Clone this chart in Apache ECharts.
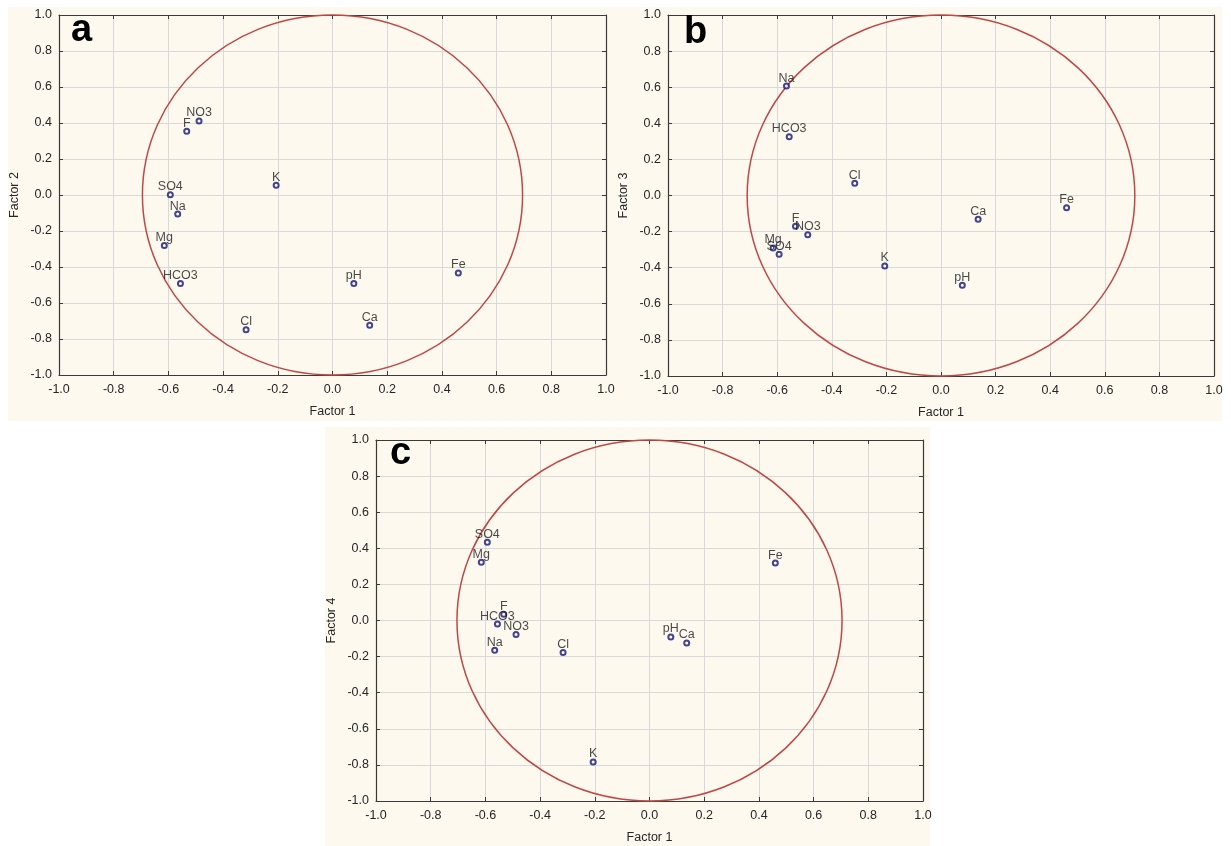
<!DOCTYPE html>
<html>
<head>
<meta charset="utf-8">
<title>Factor loadings</title>
<script src="https://cdn.jsdelivr.net/npm/echarts@6/dist/echarts.min.js"></script>
<style>
  body { margin: 0; background: #fff; }
  .bg { position: absolute; background: #fdf9ee; }
  #main { position: absolute; left: 0; top: 0; width: 1231px; height: 846px; }
</style>
</head>
<body>
<div class="bg" style="left:8px;top:7px;width:610px;height:414px"></div>
<div class="bg" style="left:618px;top:7px;width:604px;height:414px"></div>
<div class="bg" style="left:325px;top:427px;width:605px;height:419px"></div>
<div id="main"></div>
<script>
// variables and their loadings
var elements = ['pH', 'Ca', 'Mg', 'Na', 'K', 'Fe', 'Cl', 'SO4', 'HCO3', 'NO3', 'F'];
var factor1 = [0.078, 0.136, -0.615, -0.566, -0.206, 0.460, -0.316, -0.593, -0.556, -0.488, -0.533];
var factor2 = [-0.491, -0.724, -0.280, -0.106, 0.054, -0.433, -0.748, 0.002, -0.491, 0.411, 0.354];
var factor3 = [-0.497, -0.131, -0.291, 0.606, -0.390, -0.068, 0.068, -0.326, 0.326, -0.217, -0.171];
var factor4 = [-0.091, -0.124, 0.323, -0.165, -0.784, 0.318, -0.177, 0.433, -0.020, -0.078, 0.035];

var panelLetters = ['a', 'b', 'c'];
var yNames = ['Factor 2', 'Factor 3', 'Factor 4'];
var yFactors = [factor2, factor3, factor4];
// circle: centre x, centre y, radius on x, radius on y (axis units)
var circles = [[0, 0, 0.695, 1.0], [0, 0, 0.71, 1.0], [0, 0, 0.704, 1.0]];

var grids = [
  { left: 59, top: 15, width: 547, height: 360 },
  { left: 668, top: 15, width: 546, height: 361 },
  { left: 376, top: 440, width: 547, height: 361 }
];
var letterPos = [[71, 12], [684, 14], [390, 435]];

var lineColor = '#3a3a3a';
var textColor = '#262626';
var fmt = function (v) { return v.toFixed(1); };

var xAxes = [], yAxes = [], series = [], graphics = [];

grids.forEach(function (g, i) {
  // bottom / top
  xAxes.push({
    type: 'value', gridIndex: i, min: -1, max: 1, interval: 0.2, position: 'bottom',
    name: 'Factor 1', nameLocation: 'middle', nameGap: 30,
    nameTextStyle: { fontSize: 12.5, color: textColor },
    axisLine: { onZero: false, lineStyle: { color: lineColor, width: 1.2 } },
    axisTick: { inside: true, length: 4, lineStyle: { color: lineColor } },
    axisLabel: { formatter: fmt, fontSize: 12.5, color: textColor, margin: 8 },
    splitLine: { show: true, lineStyle: { color: '#d9d9d9' } }
  });
  xAxes.push({
    type: 'value', gridIndex: i, min: -1, max: 1, interval: 0.2, position: 'top',
    axisLine: { onZero: false, lineStyle: { color: lineColor, width: 1.2 } },
    axisTick: { inside: true, length: 4, lineStyle: { color: lineColor } },
    axisLabel: { show: false }, splitLine: { show: false }
  });
  // left / right
  yAxes.push({
    type: 'value', gridIndex: i, min: -1, max: 1, interval: 0.2, position: 'left',
    name: yNames[i], nameLocation: 'middle', nameGap: 38,
    nameTextStyle: { fontSize: 12.5, color: textColor },
    axisLine: { onZero: false, lineStyle: { color: lineColor, width: 1.2 } },
    axisTick: { inside: true, length: 4, lineStyle: { color: lineColor } },
    axisLabel: { formatter: fmt, fontSize: 12.5, color: textColor, margin: 7 },
    splitLine: { show: true, lineStyle: { color: '#d9d9d9' } }
  });
  yAxes.push({
    type: 'value', gridIndex: i, min: -1, max: 1, interval: 0.2, position: 'right',
    axisLine: { onZero: false, lineStyle: { color: lineColor, width: 1.2 } },
    axisTick: { inside: true, length: 4, lineStyle: { color: lineColor } },
    axisLabel: { show: false }, splitLine: { show: false }
  });

  // red circle
  series.push({
    type: 'custom', xAxisIndex: 2 * i, yAxisIndex: 2 * i,
    silent: true, clip: false, z: 3,
    data: [circles[i]],
    renderItem: function (params, api) {
      var c = api.coord([api.value(0), api.value(1)]);
      var s = api.size([api.value(2), api.value(3)]);
      return {
        type: 'ellipse',
        shape: { cx: c[0], cy: c[1], rx: s[0], ry: s[1] },
        style: { fill: 'none', stroke: '#bf4744', lineWidth: 1.5 }
      };
    }
  });

  // points
  var ys = yFactors[i];
  series.push({
    type: 'scatter', xAxisIndex: 2 * i, yAxisIndex: 2 * i, z: 4,
    symbol: 'emptyCircle', symbolSize: 5,
    itemStyle: { color: '#14147a', borderWidth: 1.5 },
    label: {
      show: true, position: 'top', distance: -2,
      formatter: '{b}', fontSize: 12.5, color: '#1a1a1a'
    },
    data: elements.map(function (name, k) {
      return { name: name, value: [factor1[k], ys[k]] };
    })
  });

  graphics.push({
    type: 'text', x: letterPos[i][0], y: letterPos[i][1], z: 10,
    style: {
      text: panelLetters[i], fill: '#000', verticalAlign: 'top',
      font: 'bold 38px "Liberation Sans", Arial, sans-serif'
    }
  });
});

var myChart = echarts.init(document.getElementById('main'));
var option = {
  backgroundColor: 'transparent',
  animation: false,
  textStyle: { fontFamily: '"Liberation Sans", Arial, sans-serif' },
  grid: grids,
  xAxis: xAxes,
  yAxis: yAxes,
  series: series,
  graphic: graphics
};
myChart.setOption(option);
</script>
</body>
</html>
